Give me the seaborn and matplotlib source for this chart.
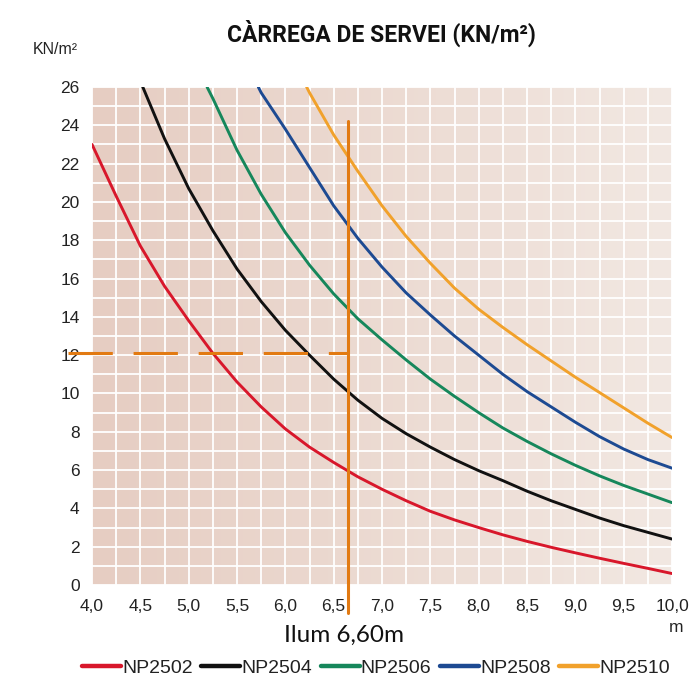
import numpy as np
import pandas as pd
import seaborn as sns
import matplotlib.pyplot as plt
from matplotlib.colors import LinearSegmentedColormap

# Span (m) and service load (kN/m2)
x_np2502 = [4.0, 4.25, 4.5, 4.75, 5.0, 5.25, 5.5, 5.75, 6.0, 6.25, 6.5, 6.75, 7.0,
            7.25, 7.5, 7.75, 8.0, 8.25, 8.5, 8.75, 9.0, 9.25, 9.5, 9.75, 10.0]
y_np2502 = [23.0, 20.3, 17.7, 15.6, 13.8, 12.1, 10.6, 9.3, 8.15, 7.2, 6.4, 5.65, 5.0,
            4.4, 3.85, 3.4, 3.0, 2.62, 2.28, 1.97, 1.68, 1.4, 1.13, 0.87, 0.6]

x_np2504 = [4.5, 4.75, 5.0, 5.25, 5.5, 5.75, 6.0, 6.25, 6.5, 6.75, 7.0, 7.25, 7.5,
            7.75, 8.0, 8.25, 8.5, 8.75, 9.0, 9.25, 9.5, 9.75, 10.0]
y_np2504 = [26.3, 23.3, 20.7, 18.5, 16.5, 14.8, 13.3, 12.0, 10.75, 9.65, 8.7, 7.9, 7.2,
            6.55, 5.97, 5.45, 4.9, 4.4, 3.95, 3.5, 3.1, 2.75, 2.4]

x_np2506 = [5.19, 5.25, 5.5, 5.75, 6.0, 6.25, 6.5, 6.75, 7.0, 7.25, 7.5, 7.75, 8.0,
            8.25, 8.5, 8.75, 9.0, 9.25, 9.5, 9.75, 10.0]
y_np2506 = [26.0, 25.4, 22.7, 20.4, 18.4, 16.7, 15.2, 13.9, 12.8, 11.75, 10.75, 9.85, 9.0,
            8.2, 7.5, 6.85, 6.25, 5.7, 5.2, 4.75, 4.3]

x_np2508 = [5.72, 5.75, 6.0, 6.25, 6.5, 6.75, 7.0, 7.25, 7.5, 7.75, 8.0, 8.25, 8.5,
            8.75, 9.0, 9.25, 9.5, 9.75, 10.0]
y_np2508 = [26.0, 25.7, 23.8, 21.8, 19.8, 18.1, 16.6, 15.25, 14.1, 13.0, 12.0, 11.0, 10.1,
            9.3, 8.5, 7.75, 7.1, 6.55, 6.1]

x_np2510 = [6.22, 6.25, 6.5, 6.75, 7.0, 7.25, 7.5, 7.75, 8.0, 8.25, 8.5, 8.75, 9.0,
            9.25, 9.5, 9.75, 10.0]
y_np2510 = [26.0, 25.7, 23.5, 21.6, 19.8, 18.2, 16.8, 15.5, 14.4, 13.45, 12.55, 11.7, 10.85,
            10.05, 9.25, 8.45, 7.7]

series = ["NP2502", "NP2504", "NP2506", "NP2508", "NP2510"]
colors = ["#d8172b", "#111111", "#16875b", "#1d4a92", "#f1a12b"]

# reference case marked on the chart
span_mark = 6.65
load_mark = 12.1
mark_color = "#e27a12"

frames = []
for name, xs, ys in zip(series,
                        [x_np2502, x_np2504, x_np2506, x_np2508, x_np2510],
                        [y_np2502, y_np2504, y_np2506, y_np2508, y_np2510]):
    frames.append(pd.DataFrame({"span": xs, "load": ys, "tipus": name}))
df = pd.concat(frames, ignore_index=True)

sns.set_style("white")
plt.rcParams["font.family"] = ["Liberation Sans", "DejaVu Sans"]

fig = plt.figure(figsize=(6.93, 6.79), dpi=100)
ax = fig.add_axes([0.1328, 0.1384, 0.8369, 0.7335])

# pinkish gradient background
cmap = LinearSegmentedColormap.from_list("bg", ["#e6cdc2", "#f2e8e2"])
grad = np.linspace(0, 1, 256).reshape(1, -1)
ax.imshow(grad, cmap=cmap, aspect="auto", extent=[4, 10, 0, 26], zorder=0)

sns.lineplot(data=df, x="span", y="load", hue="tipus", palette=colors,
             hue_order=series, linewidth=2.1, sort=True, estimator=None, ax=ax, zorder=3)
for ln in ax.get_lines():
    ln.set_solid_joinstyle("round")

ax.set_xlim(4, 10)
ax.set_ylim(0, 26)
ax.set_xticks(np.arange(4, 10.01, 0.5))
ax.set_xticklabels([f"{v:.1f}".replace(".", ",") for v in np.arange(4, 10.01, 0.5)])
ax.set_xticks(np.arange(4, 10.01, 0.25), minor=True)
ax.set_yticks(np.arange(0, 27, 2))
ax.set_yticks(np.arange(0, 27, 1), minor=True)
ax.grid(True, which="both", color="white", linewidth=1.3, zorder=1)
ax.set_axisbelow(True)
for sp in ax.spines.values():
    sp.set_visible(False)
ax.tick_params(which="both", length=0, labelsize=12.5, colors="#222222")
ax.tick_params(axis="x", pad=10)
ax.tick_params(axis="y", pad=9)
ax.set_xlabel("")
ax.set_ylabel("")

# reference case lines
ax.plot([span_mark, span_mark], [24.2, -1.45], color=mark_color, linewidth=2.2,
        clip_on=False, zorder=4)
ax.plot([3.75, span_mark], [load_mark, load_mark], color=mark_color, linewidth=2.2,
        linestyle=(0, (14.5, 6.8)), clip_on=False, zorder=4)

fig.text(344 / 693, 1 - 635 / 679, "Ilum 6,60m", ha="center", va="center",
         fontsize=17.5, family=["Lato", "DejaVu Sans"], color="#111111")
fig.text(676 / 693, 1 - 628 / 679, "m", ha="center", va="center", fontsize=12.5,
         color="#222222")
fig.text(55 / 693, 1 - 50 / 679, "KN/m²", ha="center", va="center", fontsize=11.5,
         color="#222222")
fig.text(381 / 693, 1 - 33 / 679, "CÀRREGA DE SERVEI (KN/m²)", ha="center",
         va="center", fontsize=16.5, fontweight="bold", family=["Roboto", "DejaVu Sans"],
         color="#111111")

sns.move_legend(ax, "center", ncol=5, frameon=False, title=None, fontsize=14,
                handlelength=2.0, handletextpad=0.05, columnspacing=0.45)
leg = ax.get_legend()
leg.set_bbox_to_anchor((376 / 693, 11 / 679), transform=fig.transFigure)
for line in leg.get_lines():
    line.set_linewidth(3.2)
for t in leg.get_texts():
    t.set_color("#222222")

fig.savefig("out.png", dpi=100)
